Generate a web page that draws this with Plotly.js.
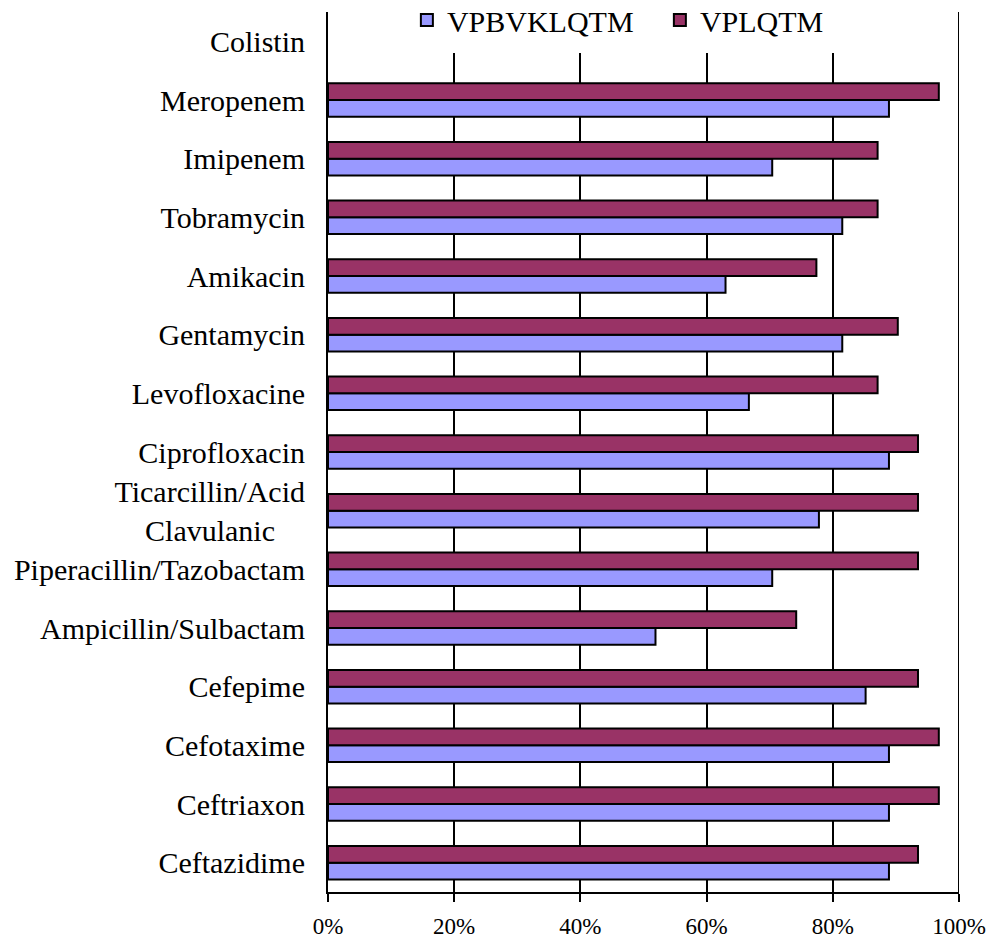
<!DOCTYPE html>
<html>
<head>
<meta charset="utf-8">
<script src="https://cdn.plot.ly/plotly-3.0.1.min.js"></script>
<style>
  html, body { margin: 0; padding: 0; background: #fff; }
  #chart { width: 991px; height: 940px; }
</style>
</head>
<body>
<div id="chart"></div>
<script>
// Antibiotics, listed from the bottom row of the chart upwards
const antibiotics = [
  'Ceftazidime',
  'Ceftriaxon',
  'Cefotaxime',
  'Cefepime',
  'Ampicillin/Sulbactam',
  'Piperacillin/Tazobactam',
  'Ticarcillin/Acid<br>Clavulanic\u00a0\u00a0\u00a0\u00a0',
  'Ciprofloxacin',
  'Levofloxacine',
  'Gentamycin',
  'Amikacin',
  'Tobramycin',
  'Imipenem',
  'Meropenem',
  'Colistin'
];

// Resistance rates (%); Colistin has no bar
const vpbvklqtm = [88.9, 88.9, 88.9, 85.2, 51.9, 70.4, 77.8, 88.9, 66.7, 81.5, 63.0, 81.5, 70.4, 88.9, null];
const vplqtm    = [93.5, 96.8, 96.8, 93.5, 74.2, 93.5, 93.5, 93.5, 87.1, 90.3, 77.4, 87.1, 87.1, 96.8, null];

const seriesNames = ['VPBVKLQTM', 'VPLQTM'];
const xTicks = [0, 20, 40, 60, 80, 100];
const xTickText = ['0%', '20%', '40%', '60%', '80%', '100%'];

const serif = '"Liberation Serif", "Times New Roman", serif';

const traces = [
  {
    type: 'bar', orientation: 'h', name: seriesNames[0],
    y: antibiotics, x: vpbvklqtm,
    marker: { color: '#9999FF', line: { color: '#000000', width: 2 } },
    hoverinfo: 'x+y'
  },
  {
    type: 'bar', orientation: 'h', name: seriesNames[1],
    y: antibiotics, x: vplqtm,
    marker: { color: '#993366', line: { color: '#000000', width: 2 } },
    hoverinfo: 'x+y'
  }
];

const layout = {
  width: 991, height: 940,
  margin: { l: 328, r: 32, t: 12, b: 48, autoexpand: false },
  paper_bgcolor: '#ffffff', plot_bgcolor: '#ffffff',
  font: { family: serif, color: '#000000' },
  barmode: 'group', bargap: 0.43, bargroupgap: 0,
  showlegend: true,
  legend: {
    orientation: 'h', x: 0.125, xanchor: 'left', y: 1.0205, yanchor: 'top',
    font: { family: serif, size: 30, color: '#000000' },
    bgcolor: 'rgba(0,0,0,0)', borderwidth: 0, traceorder: 'normal',
    entrywidth: 208, entrywidthmode: 'pixels'
  },
  xaxis: {
    range: [0, 100], tickvals: xTicks, ticktext: xTickText,
    showline: true, linecolor: '#000000', linewidth: 2,
    ticks: 'outside', ticklen: 8, tickwidth: 2, tickcolor: '#000000',
    showgrid: true, gridcolor: '#000000', gridwidth: 2,
    zeroline: false, fixedrange: true,
    tickfont: { family: serif, size: 23, color: '#000000' },
    ticklabelstandoff: 4
  },
  yaxis: {
    type: 'category', categoryorder: 'array', categoryarray: antibiotics,
    showline: true, linecolor: '#000000', linewidth: 2,
    ticks: '', showgrid: false, zeroline: false, fixedrange: true,
    tickfont: { family: serif, size: 30, color: '#000000' },
    ticklabelstandoff: 15
  },
  shapes: [
    // blank band behind the legend, gridlines begin below it
    { type: 'rect', layer: 'above', xref: 'x', yref: 'paper',
      x0: 10, x1: 90, y0: 0.9534, y1: 1.0,
      fillcolor: '#ffffff', line: { width: 0 } },
    // right border at 100%
    { type: 'line', layer: 'above', xref: 'x', yref: 'paper',
      x0: 100, x1: 100, y0: 0, y1: 1,
      line: { color: '#000000', width: 2 } }
  ]
};

Plotly.newPlot('chart', traces, layout, { displayModeBar: false, staticPlot: true });
</script>
</body>
</html>
